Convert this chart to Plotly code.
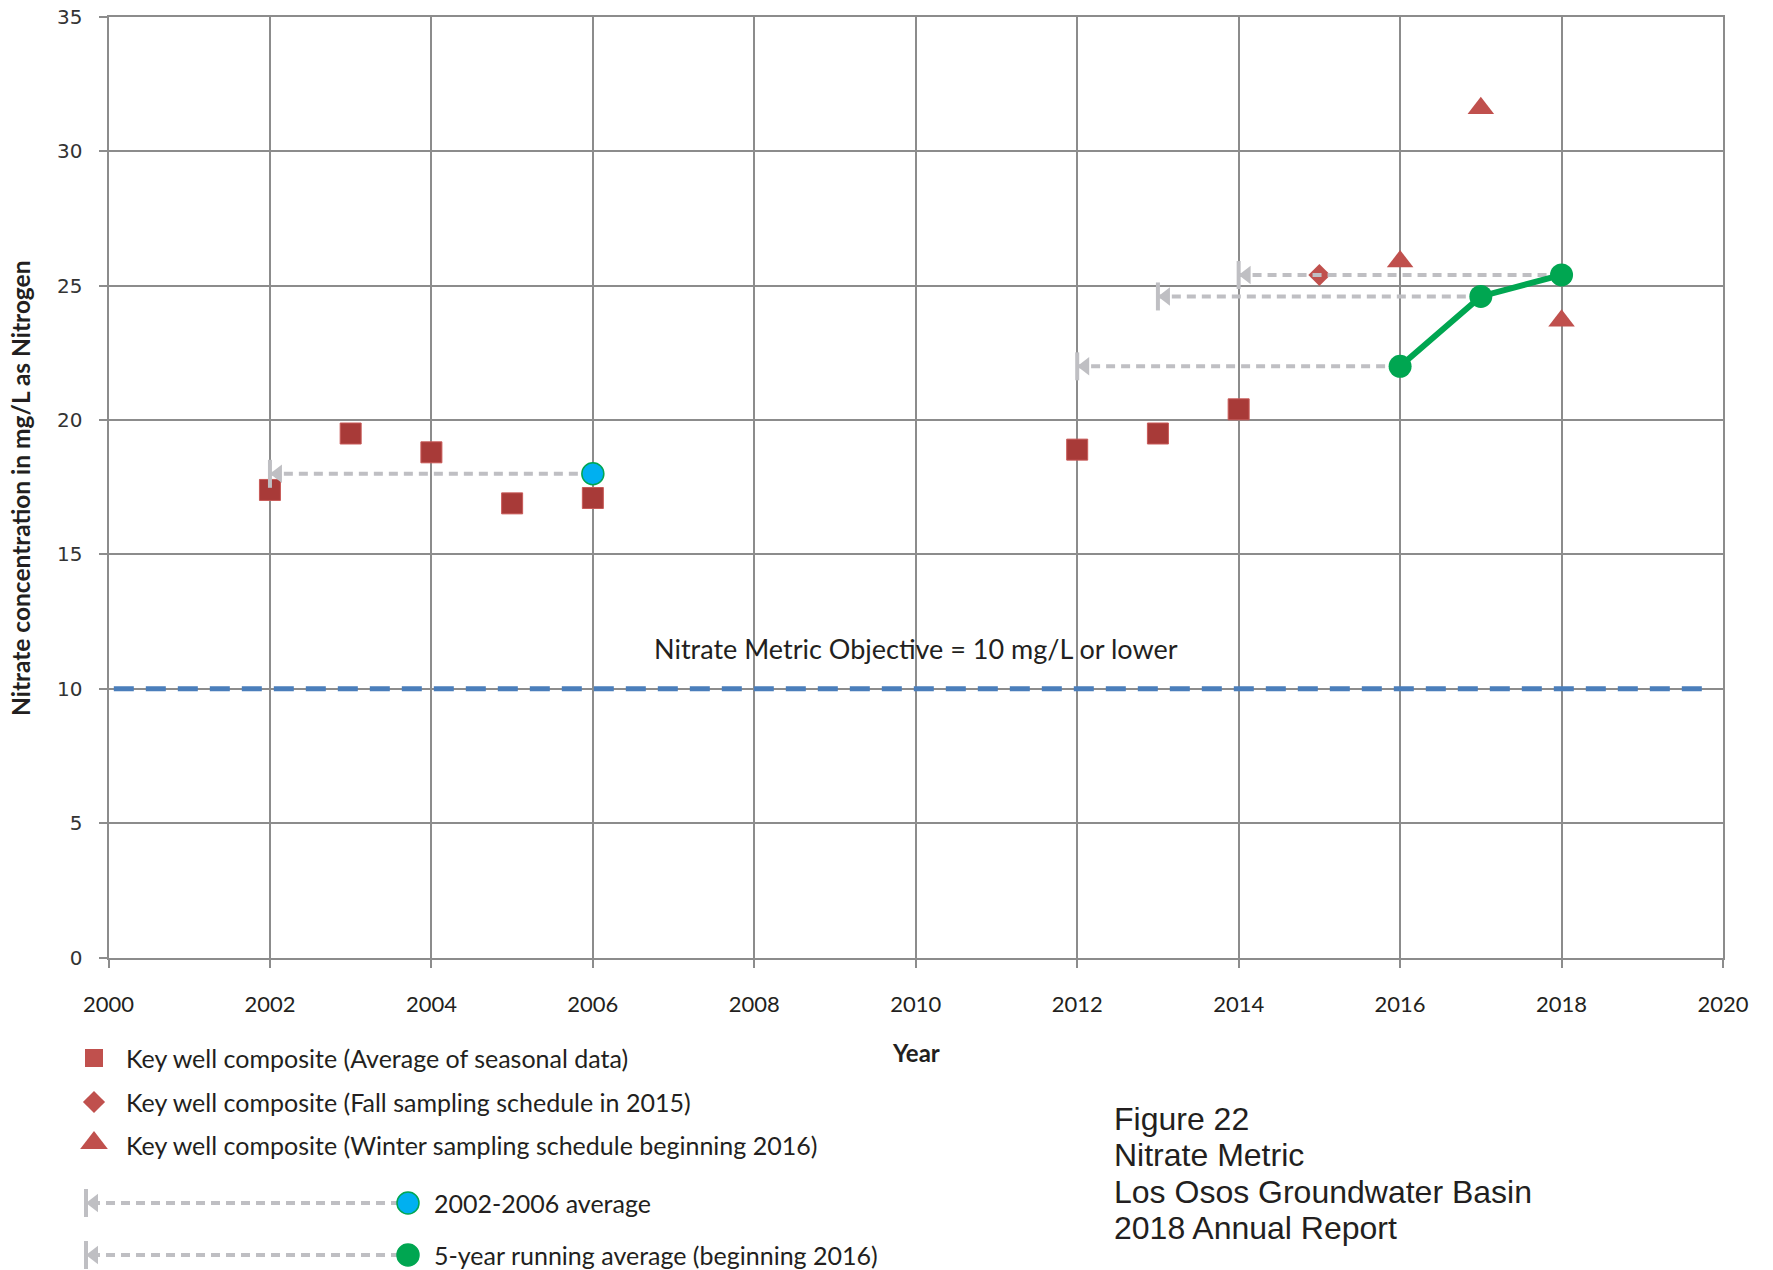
import plotly.graph_objects as go

W, H = 1773, 1270

# ---------------- data ----------------
sq_years = [2002, 2003, 2004, 2005, 2006, 2012, 2013, 2014]
sq_vals = [17.4, 19.5, 18.8, 16.9, 17.1, 18.9, 19.5, 20.4]
fall_years = [2015]
fall_vals = [25.4]
winter_years = [2016, 2017, 2018]
winter_vals = [25.9, 31.6, 23.7]
avg_years = [2006]
avg_vals = [18.0]
avg_start = [2002]
run_years = [2016, 2017, 2018]
run_vals = [22.0, 24.6, 25.4]
run_start = [2012, 2013, 2014]
objective = 10
x_ticks = list(range(2000, 2021, 2))
y_ticks = list(range(0, 36, 5))

legend_labels = [
    "Key well composite (Average of seasonal data)",
    "Key well composite (Fall sampling schedule in 2015)",
    "Key well composite (Winter sampling schedule beginning 2016)",
    "2002-2006 average",
    "5-year running average (beginning 2016)",
]
fig_text = ["Figure 22", "Nitrate Metric", "Los Osos Groundwater Basin", "2018 Annual Report"]

# ---------------- style ----------------
SQ_COLOR = "#a83a38"
TRI_COLOR = "#c0504d"
GREEN = "#00a651"
BLUE = "#00b0f0"
ARROW = "#bfbfc3"
GRID = "#8c8c8c"
TXT = "#231f20"
LFONT = "Lato"

# plot area in pixels
px_l, px_r, px_t, px_b = 108.5, 1723.0, 17.0, 957.5
x_dom = [px_l / W, px_r / W]
y_dom = [1 - px_b / H, 1 - px_t / H]
px_per_year = (px_r - px_l) / 20.0
tri_off = 8 / px_per_year  # triangle tip sits on the bar

fig = go.Figure()

def add_arrow(x_from, x_to, val, xa="x", ya="y", off=tri_off):
    fig.add_trace(go.Scatter(x=[x_from, x_to], y=[val, val], mode="lines",
                             line=dict(color=ARROW, width=4, dash="9px,6px"),
                             xaxis=xa, yaxis=ya, hoverinfo="skip", showlegend=False))
    fig.add_trace(go.Scatter(x=[x_to], y=[val], mode="markers",
                             marker=dict(symbol="line-ns", size=20, line=dict(color=ARROW, width=4)),
                             xaxis=xa, yaxis=ya, hoverinfo="skip", showlegend=False))
    fig.add_trace(go.Scatter(x=[x_to + off], y=[val], mode="markers",
                             marker=dict(symbol="triangle-left", size=16, color=ARROW),
                             xaxis=xa, yaxis=ya, hoverinfo="skip", showlegend=False))

# objective line
fig.add_shape(type="line", xref="paper", yref="y", x0=x_dom[0] + 0.003, x1=x_dom[1] - 0.008,
              y0=objective, y1=objective, line=dict(color="#4a7ebb", width=5, dash="20px,12px"))

fig.add_trace(go.Scatter(x=sq_years, y=sq_vals, mode="markers",
                         marker=dict(symbol="square", size=21, color=SQ_COLOR,
                                     line=dict(color="#c85a58", width=1)),
                         hoverinfo="skip", showlegend=False))
fig.add_trace(go.Scatter(x=fall_years, y=fall_vals, mode="markers",
                         marker=dict(symbol="diamond", size=17, color=TRI_COLOR),
                         hoverinfo="skip", showlegend=False))
fig.add_trace(go.Scatter(x=winter_years, y=winter_vals, mode="markers",
                         marker=dict(symbol="triangle-up", size=23, color=TRI_COLOR),
                         hoverinfo="skip", showlegend=False))

# arrows
for s, e, v in zip(avg_start, avg_years, avg_vals):
    add_arrow(e, s, v)
for s, e, v in zip(run_start, run_years, run_vals):
    add_arrow(e, s, v)

fig.add_trace(go.Scatter(x=run_years, y=run_vals, mode="lines+markers",
                         line=dict(color=GREEN, width=6),
                         marker=dict(symbol="circle", size=23, color=GREEN),
                         hoverinfo="skip", showlegend=False))
fig.add_trace(go.Scatter(x=avg_years, y=avg_vals, mode="markers",
                         marker=dict(symbol="circle", size=22, color=BLUE,
                                     line=dict(color=GREEN, width=1.5)),
                         hoverinfo="skip", showlegend=False))

# ---------------- legend (pixel overlay axis) ----------------
leg_x_mark = 94
leg_x_text = 124
leg_rows = [1058, 1102, 1145, 1203, 1255]
fig.add_trace(go.Scatter(x=[leg_x_mark], y=[leg_rows[0]], mode="markers", xaxis="x2", yaxis="y2",
                         marker=dict(symbol="square", size=18, color=TRI_COLOR),
                         hoverinfo="skip", showlegend=False))
fig.add_trace(go.Scatter(x=[leg_x_mark], y=[leg_rows[1]], mode="markers", xaxis="x2", yaxis="y2",
                         marker=dict(symbol="diamond", size=17, color=TRI_COLOR),
                         hoverinfo="skip", showlegend=False))
fig.add_trace(go.Scatter(x=[leg_x_mark], y=[leg_rows[2] - 2], mode="markers", xaxis="x2", yaxis="y2",
                         marker=dict(symbol="triangle-up", size=24, color=TRI_COLOR),
                         hoverinfo="skip", showlegend=False))
for row, col in zip(leg_rows[3:], [BLUE, GREEN]):
    add_arrow(400, 86, row, xa="x2", ya="y2", off=8)
    fig.add_trace(go.Scatter(x=[408], y=[row], mode="markers", xaxis="x2", yaxis="y2",
                             marker=dict(symbol="circle", size=22, color=col,
                                         line=dict(color=GREEN, width=1.5)),
                             hoverinfo="skip", showlegend=False))

annotations = []
for i, lab in enumerate(legend_labels):
    xt = leg_x_text if i < 3 else 432
    annotations.append(dict(x=xt, y=leg_rows[i], xref="x2", yref="y2", text=lab, showarrow=False,
                            xanchor="left", yanchor="middle",
                            font=dict(family=LFONT, size=25, color=TXT)))
for i, t in enumerate(fig_text):
    annotations.append(dict(x=1112, y=1119 + 36.3 * i, xref="x2", yref="y2", text=t, showarrow=False,
                            xanchor="left", yanchor="middle",
                            font=dict(family="Liberation Sans", size=32, color=TXT)))

# axis titles & objective label
annotations.append(dict(x=(px_l + px_r) / 2 / W, y=1 - 1052 / H, xref="paper", yref="paper",
                        text="<b>Year</b>", showarrow=False, xanchor="center", yanchor="middle",
                        font=dict(family=LFONT, size=24, color=TXT)))
annotations.append(dict(x=21 / W, y=1 - 488 / H, xref="paper", yref="paper",
                        text="<b>Nitrate concentration in mg/L as Nitrogen</b>", textangle=-90,
                        showarrow=False, xanchor="center", yanchor="middle",
                        font=dict(family=LFONT, size=24.5, color=TXT)))
annotations.append(dict(x=2010, y=objective, xref="x", yref="y", yshift=40,
                        text="Nitrate Metric Objective = 10 mg/L or lower", showarrow=False,
                        xanchor="center", yanchor="middle",
                        font=dict(family=LFONT, size=27, color=TXT)))

fig.update_layout(
    width=W, height=H,
    margin=dict(l=0, r=0, t=0, b=0),
    paper_bgcolor="white", plot_bgcolor="rgba(0,0,0,0)",
    showlegend=False,
    annotations=annotations,
    xaxis=dict(domain=x_dom, range=[2000, 2020], tickvals=x_ticks, ticktext=[str(v) for v in x_ticks],
               showgrid=True, gridcolor=GRID, gridwidth=2, showline=True, linecolor=GRID, linewidth=2,
               mirror=True, ticks="outside", ticklen=8, tickwidth=2, tickcolor=GRID,
               ticklabelstandoff=18, zeroline=False, automargin=False,
               tickfont=dict(family=LFONT, size=22, color=TXT), anchor="y"),
    yaxis=dict(domain=y_dom, range=[0, 35], tickvals=y_ticks,
               showgrid=True, gridcolor=GRID, gridwidth=2, showline=True, linecolor=GRID, linewidth=2,
               mirror=True, ticks="outside", ticklen=8, tickwidth=2, tickcolor=GRID,
               ticklabelstandoff=12, zeroline=False, automargin=False,
               tickfont=dict(family="DejaVu Sans", size=20, color="#333333"), anchor="x"),
    xaxis2=dict(domain=[0, 1], range=[0, W], visible=False, anchor="y2", fixedrange=True),
    yaxis2=dict(domain=[0, 0.2], range=[H, H * 0.8], visible=False, anchor="x2", fixedrange=True),
)

fig.write_html("out.html", config={"displayModeBar": False},
               post_script="document.body.style.margin='0';document.body.style.overflow='hidden';")
